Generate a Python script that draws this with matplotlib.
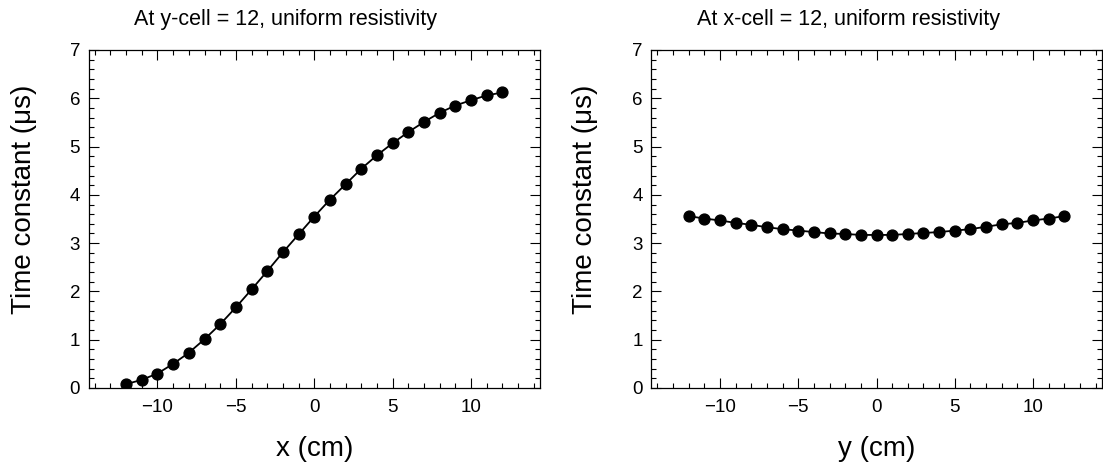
import matplotlib
matplotlib.use("Agg")
import matplotlib.pyplot as plt
from matplotlib.ticker import MultipleLocator

plt.rcParams["font.family"] = ["Liberation Sans", "DejaVu Sans"]

# positions of the cells (cm)
pos = list(range(-12, 13))

# time constant along x, at y-cell = 12
tau_x = [0.08, 0.17, 0.30, 0.50, 0.73, 1.01, 1.32, 1.67, 2.04, 2.42,
         2.81, 3.18, 3.55, 3.90, 4.22, 4.54, 4.82, 5.07, 5.30, 5.51,
         5.70, 5.85, 5.96, 6.06, 6.12]

# time constant along y, at x-cell = 12
tau_y = [3.56, 3.51, 3.47, 3.42, 3.38, 3.33, 3.29, 3.26, 3.23, 3.20,
         3.19, 3.17, 3.17, 3.17, 3.19, 3.21, 3.23, 3.26, 3.29, 3.34,
         3.39, 3.42, 3.47, 3.51, 3.56]

titles = ["At y-cell = 12, uniform resistivity",
          "At x-cell = 12, uniform resistivity"]
xlabels = ["x (cm)", "y (cm)"]
ylabel = "Time constant (\u03bcs)"

W, H = 1103, 466
fig = plt.figure(figsize=(W / 100, H / 100), dpi=100)

panels = [
    # left px, right px, data, title centre px, ylabel centre px
    (88.5, 540, tau_x, 285, 24),
    (651, 1102, tau_y, 848, 585),
]
top, bottom = 50, 388

for i, (l, r, vals, tcx, ylx) in enumerate(panels):
    ax = fig.add_axes([l / W, 1 - bottom / H, (r - l) / W, (bottom - top) / H])
    ax.plot(pos, vals, color="black", lw=1.3, marker="o", ms=7.8,
            markerfacecolor="black", markeredgecolor="black")
    ax.set_xlim(-14.4, 14.4)
    ax.set_ylim(0, 7)
    ax.xaxis.set_major_locator(MultipleLocator(5))
    ax.xaxis.set_minor_locator(MultipleLocator(1))
    ax.yaxis.set_major_locator(MultipleLocator(1))
    ax.yaxis.set_minor_locator(MultipleLocator(0.2))
    ax.tick_params(which="both", direction="in", top=True, right=True,
                   width=0.8, labelsize=13.5)
    ax.tick_params(which="major", length=7.2)
    ax.tick_params(which="minor", length=3.6)
    ax.tick_params(axis="x", pad=8)
    ax.tick_params(axis="y", pad=6)
    for s in ax.spines.values():
        s.set_linewidth(0.9)

    # ROOT-like titles placed by hand
    fig.text(tcx / W, 1 - 20 / H, titles[i], ha="center", va="center",
             fontsize=15.5)
    fig.text(((l + r) / 2) / W, 1 - 449 / H, xlabels[i], ha="center",
             va="center", fontsize=20)
    fig.text(ylx / W, 1 - 199 / H, ylabel, ha="center", va="center",
             rotation=90, fontsize=20)

fig.savefig("out.png", dpi=100)
